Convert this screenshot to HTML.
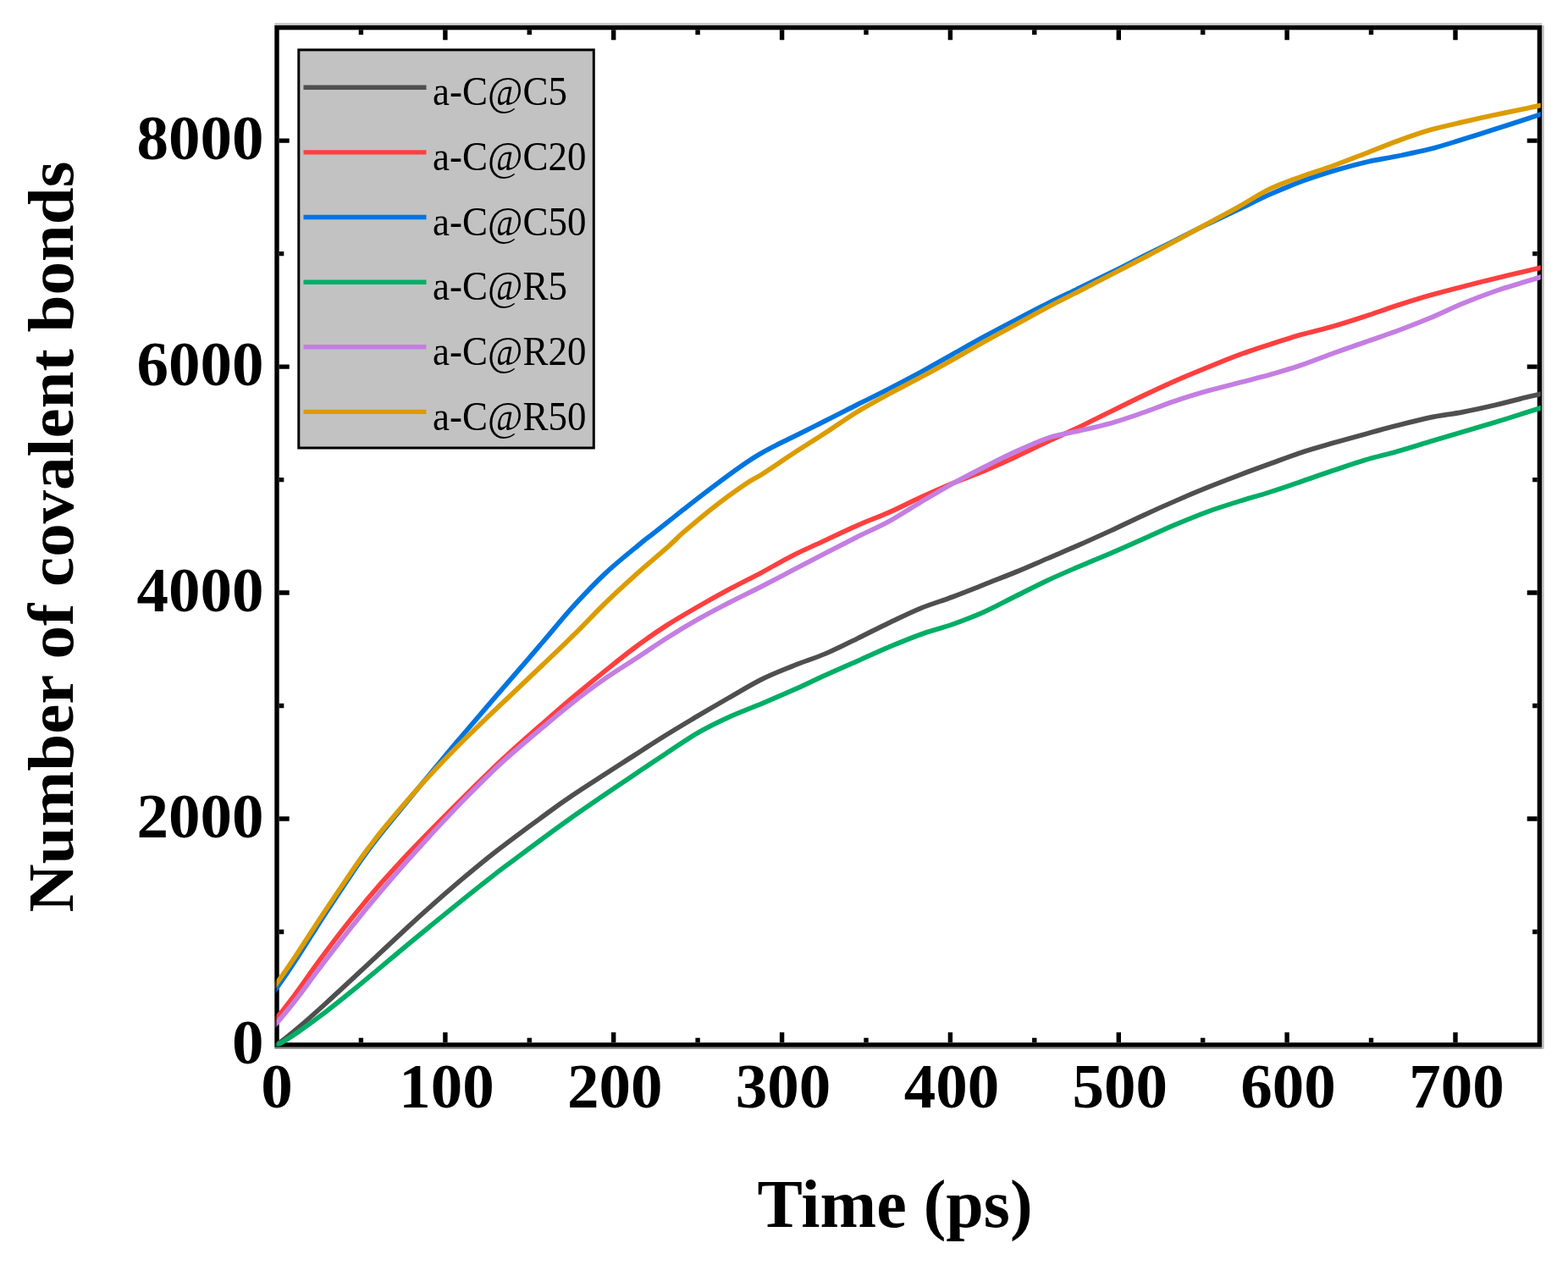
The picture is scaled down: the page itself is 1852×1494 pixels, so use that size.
<!DOCTYPE html>
<html lang="en"><head><meta charset="utf-8"><title>Number of covalent bonds vs Time</title>
<style>
html,body{margin:0;padding:0;background:#fff;}
body{width:1852px;height:1494px;overflow:hidden;}
svg{display:block;}
text{font-family:"Liberation Serif","Times New Roman",Times,serif;fill:#000;}
.tk{font-size:75px;font-weight:bold;}
.ttl{font-size:80px;font-weight:bold;}
.lg{font-size:45px;}
</style></head><body>
<svg xmlns="http://www.w3.org/2000/svg" width="1852" height="1494" viewBox="0 0 1852 1494">
<rect x="0" y="0" width="1852" height="1494" fill="#fff"/>
<rect x="324.3" y="27.1" width="1496.8" height="2.8" fill="#c6c6c6"/>
<rect x="1821.1" y="29.9" width="2.6" height="1209.0" fill="#bdbdbd"/>
<rect x="324.3" y="1236.7" width="1496.8" height="2.2" fill="#8e8e8e"/>
<rect x="352.8" y="58.9" width="348.5" height="470.1" fill="#c2c2c2" stroke="#000" stroke-width="3"/>
<line x1="358.5" y1="103.2" x2="503.5" y2="103.2" stroke="#4f4f4f" stroke-width="5.4"/>
<text class="lg" transform="translate(511 124.4) scale(1 1.1)">a-C@C5</text>
<line x1="358.5" y1="179.9" x2="503.5" y2="179.9" stroke="#ff3f3f" stroke-width="5.4"/>
<text class="lg" transform="translate(511 201.1) scale(1 1.1)">a-C@C20</text>
<line x1="358.5" y1="256.5" x2="503.5" y2="256.5" stroke="#0075e0" stroke-width="5.4"/>
<text class="lg" transform="translate(511 277.7) scale(1 1.1)">a-C@C50</text>
<line x1="358.5" y1="333.2" x2="503.5" y2="333.2" stroke="#00ae66" stroke-width="5.4"/>
<text class="lg" transform="translate(511 354.4) scale(1 1.1)">a-C@R5</text>
<line x1="358.5" y1="409.8" x2="503.5" y2="409.8" stroke="#c47ee2" stroke-width="5.4"/>
<text class="lg" transform="translate(511 431.0) scale(1 1.1)">a-C@R20</text>
<line x1="358.5" y1="486.4" x2="503.5" y2="486.4" stroke="#dc9c00" stroke-width="5.4"/>
<text class="lg" transform="translate(511 507.6) scale(1 1.1)">a-C@R50</text>
<rect x="327.0" y="32.6" width="1491.4" height="1201.4" fill="none" stroke="#000" stroke-width="5.4"/>
<path d="M426.4 1231.3v-5.6M426.4 35.3v5.6M525.9 1231.3v-12.0M525.9 35.3v12.0M625.3 1231.3v-5.6M625.3 35.3v5.6M724.7 1231.3v-12.0M724.7 35.3v12.0M824.1 1231.3v-5.6M824.1 35.3v5.6M923.6 1231.3v-12.0M923.6 35.3v12.0M1023.0 1231.3v-5.6M1023.0 35.3v5.6M1122.4 1231.3v-12.0M1122.4 35.3v12.0M1221.8 1231.3v-5.6M1221.8 35.3v5.6M1321.3 1231.3v-12.0M1321.3 35.3v12.0M1420.7 1231.3v-5.6M1420.7 35.3v5.6M1520.1 1231.3v-12.0M1520.1 35.3v12.0M1619.5 1231.3v-5.6M1619.5 35.3v5.6M1719.0 1231.3v-12.0M1719.0 35.3v12.0M329.7 1100.5h5.6M1815.7 1100.5h-5.6M329.7 967.0h12.0M1815.7 967.0h-12.0M329.7 833.5h5.6M1815.7 833.5h-5.6M329.7 700.0h12.0M1815.7 700.0h-12.0M329.7 566.6h5.6M1815.7 566.6h-5.6M329.7 433.1h12.0M1815.7 433.1h-12.0M329.7 299.6h5.6M1815.7 299.6h-5.6M329.7 166.1h12.0M1815.7 166.1h-12.0" stroke="#000" stroke-width="5.4" fill="none"/>
<clipPath id="pc"><rect x="326.7" y="32.6" width="1493.1" height="1202.9"/></clipPath>
<g clip-path="url(#pc)" fill="none" stroke-width="5.7" stroke-linejoin="round" stroke-linecap="butt">
<path d="M323.0 1236.6C323.7 1236.1 324.2 1235.9 327.0 1233.8C329.8 1231.7 335.8 1227.3 340.0 1223.9C344.2 1220.6 344.9 1220.2 352.4 1213.7C359.9 1207.3 374.0 1194.8 384.8 1185.0C395.6 1175.3 406.4 1165.2 417.2 1155.2C428.0 1145.2 438.8 1134.9 449.6 1124.8C460.4 1114.7 471.2 1104.6 482.0 1094.7C492.8 1084.7 503.6 1074.9 514.4 1065.4C525.2 1055.9 536.0 1046.5 546.8 1037.4C557.6 1028.3 570.3 1017.9 579.2 1010.8C588.1 1003.7 590.3 1002.0 600.0 994.7C609.7 987.4 625.0 976.1 637.5 967.0C650.0 957.9 656.2 952.7 675.0 940.1C693.8 927.5 731.4 903.5 750.0 891.5C768.6 879.5 774.2 875.8 786.7 868.1C799.2 860.3 812.8 852.3 825.0 845.0C837.2 837.8 847.5 831.8 860.0 824.6C872.5 817.5 887.1 808.5 900.0 802.1C912.9 795.7 925.0 791.2 937.5 786.1C950.0 781.1 962.5 777.3 975.0 772.0C987.5 766.6 1000.0 760.3 1012.5 754.2C1025.0 748.1 1037.5 741.6 1050.0 735.6C1062.5 729.7 1075.0 723.4 1087.5 718.3C1100.0 713.2 1112.5 709.7 1125.0 705.0C1137.5 700.4 1150.0 695.3 1162.5 690.4C1175.0 685.4 1187.5 680.6 1200.0 675.5C1212.5 670.4 1225.0 664.8 1237.5 659.5C1250.0 654.1 1262.5 648.9 1275.0 643.4C1287.5 637.9 1300.0 632.2 1312.5 626.5C1325.0 620.7 1337.5 614.5 1350.0 608.8C1362.5 603.0 1375.0 597.4 1387.5 592.0C1400.0 586.5 1412.5 581.2 1425.0 576.2C1437.5 571.1 1450.0 566.3 1462.5 561.6C1475.0 556.8 1487.5 552.3 1500.0 547.8C1512.5 543.2 1525.0 538.3 1537.5 534.2C1550.0 530.1 1562.5 526.7 1575.0 523.1C1587.5 519.5 1600.0 516.1 1612.5 512.7C1625.0 509.2 1637.3 505.8 1650.0 502.6C1662.7 499.3 1675.9 495.8 1688.9 493.1C1701.9 490.5 1714.8 489.1 1727.8 486.6C1740.8 484.1 1753.6 481.2 1766.6 478.2C1779.5 475.2 1796.9 470.7 1805.5 468.6C1814.1 466.6 1815.5 466.3 1818.4 465.6C1821.3 464.9 1822.2 464.7 1823.0 464.5" stroke="#4f4f4f"/>
<path d="M323.0 1206.0C323.7 1205.3 324.2 1205.4 327.0 1202.0C329.8 1198.6 335.8 1191.2 340.0 1185.7C344.2 1180.3 347.7 1175.6 352.4 1169.1C357.1 1162.7 362.6 1154.7 368.0 1147.2C373.4 1139.7 376.6 1134.9 384.8 1124.1C393.0 1113.2 406.4 1095.7 417.2 1082.3C428.0 1068.9 438.8 1056.0 449.6 1043.7C460.4 1031.4 470.7 1020.3 482.0 1008.3C493.3 996.4 505.9 983.5 517.2 972.0C528.5 960.5 538.8 950.2 549.6 939.4C560.4 928.7 573.6 915.8 582.0 907.7C590.4 899.6 590.8 899.2 600.0 890.9C609.2 882.5 625.0 868.5 637.5 857.5C650.0 846.5 662.5 835.4 675.0 824.9C687.5 814.3 700.0 804.2 712.5 794.1C725.0 784.1 737.5 773.9 750.0 764.6C762.5 755.3 775.0 746.6 787.5 738.5C800.0 730.5 812.5 723.3 825.0 716.1C837.5 708.9 850.0 702.0 862.5 695.3C875.0 688.6 887.5 682.5 900.0 675.9C912.5 669.2 925.0 661.8 937.5 655.5C950.0 649.2 962.5 643.8 975.0 638.0C987.5 632.1 1000.0 626.1 1012.5 620.6C1025.0 615.1 1037.5 610.7 1050.0 605.1C1062.5 599.6 1075.0 593.1 1087.5 587.4C1100.0 581.7 1112.5 576.1 1125.0 570.9C1137.5 565.6 1150.0 561.2 1162.5 556.0C1175.0 550.7 1187.5 545.1 1200.0 539.3C1212.5 533.6 1228.0 525.9 1237.5 521.5C1247.0 517.0 1250.5 515.4 1256.7 512.6C1263.0 509.7 1265.7 508.7 1275.0 504.2C1284.3 499.7 1300.0 491.9 1312.5 485.8C1325.0 479.6 1337.5 473.4 1350.0 467.4C1362.5 461.5 1375.0 455.6 1387.5 450.1C1400.0 444.6 1412.5 439.5 1425.0 434.4C1437.5 429.3 1450.0 424.1 1462.5 419.4C1475.0 414.8 1487.5 410.7 1500.0 406.7C1512.5 402.6 1525.0 398.7 1537.5 395.1C1550.0 391.6 1562.5 388.9 1575.0 385.3C1587.5 381.7 1600.0 377.6 1612.5 373.5C1625.0 369.4 1637.3 364.9 1650.0 360.8C1662.7 356.7 1675.9 352.5 1688.9 348.8C1701.9 345.0 1714.8 341.7 1727.8 338.4C1740.8 335.0 1753.6 331.8 1766.6 328.7C1779.5 325.5 1796.9 321.5 1805.5 319.4C1814.1 317.4 1815.5 317.1 1818.4 316.4C1821.3 315.7 1822.2 315.5 1823.0 315.3" stroke="#ff3f3f"/>
<path d="M323.0 1171.5C323.7 1170.7 324.2 1170.4 327.0 1166.5C329.8 1162.6 335.8 1154.1 340.0 1147.9C344.2 1141.6 347.7 1136.3 352.4 1129.1C357.1 1121.9 362.6 1113.0 368.0 1104.5C373.4 1096.1 376.6 1090.8 384.8 1078.3C393.0 1065.7 408.8 1041.7 417.2 1029.3C425.6 1016.9 429.1 1012.0 435.0 1004.0C440.9 996.1 444.1 991.8 452.4 981.5C460.7 971.1 474.0 955.0 484.8 941.9C495.6 928.8 509.1 912.7 517.2 903.0C525.3 893.3 528.0 890.1 533.4 883.6C538.8 877.2 541.5 874.0 549.6 864.5C557.7 855.0 573.6 836.5 582.0 826.7C590.4 817.0 590.3 817.1 600.0 805.9C609.7 794.7 627.1 774.6 640.0 759.5C652.9 744.5 665.0 729.4 677.5 715.7C690.0 702.0 702.5 688.9 715.0 677.1C727.5 665.4 743.0 653.0 752.5 645.2C762.0 637.3 762.5 637.2 771.7 629.9C780.9 622.7 795.3 611.2 807.5 601.6C819.7 592.1 832.5 582.1 845.0 572.8C857.5 563.4 873.3 552.0 882.5 545.7C891.7 539.3 893.8 538.3 900.0 534.7C906.2 531.1 913.8 527.3 920.0 524.1C926.2 521.0 928.3 520.1 937.5 515.6C946.7 511.1 962.5 503.2 975.0 496.9C987.5 490.7 1000.0 484.2 1012.5 477.9C1025.0 471.7 1037.5 465.7 1050.0 459.3C1062.5 452.9 1075.0 446.4 1087.5 439.6C1100.0 432.7 1112.5 425.4 1125.0 418.4C1137.5 411.4 1150.0 404.3 1162.5 397.5C1175.0 390.7 1187.5 384.2 1200.0 377.7C1212.5 371.1 1225.0 364.5 1237.5 358.3C1250.0 352.0 1262.5 346.2 1275.0 340.1C1287.5 334.1 1300.0 328.0 1312.5 321.8C1325.0 315.6 1337.5 309.1 1350.0 302.8C1362.5 296.6 1375.0 290.4 1387.5 284.2C1400.0 277.9 1412.5 271.4 1425.0 265.3C1437.5 259.2 1450.0 253.5 1462.5 247.5C1475.0 241.5 1487.5 235.1 1500.0 229.5C1512.5 224.0 1525.0 218.9 1537.5 214.2C1550.0 209.6 1562.5 205.6 1575.0 201.8C1587.5 198.1 1600.0 194.6 1612.5 191.7C1625.0 188.8 1637.3 187.1 1650.0 184.5C1662.7 181.9 1675.9 179.4 1688.9 176.1C1701.9 172.8 1714.8 168.5 1727.8 164.6C1740.8 160.6 1753.6 156.5 1766.6 152.3C1779.5 148.2 1796.9 142.6 1805.5 139.8C1814.1 136.9 1815.5 136.4 1818.4 135.4C1821.3 134.4 1822.2 134.2 1823.0 133.9" stroke="#0075e0"/>
<path d="M323.0 1235.8C323.7 1235.6 324.8 1235.6 327.0 1234.5C329.2 1233.4 332.0 1231.9 336.2 1229.2C340.4 1226.6 344.3 1224.4 352.4 1218.7C360.5 1213.0 374.0 1203.2 384.8 1195.0C395.6 1186.7 406.4 1178.0 417.2 1169.3C428.0 1160.5 438.8 1151.4 449.6 1142.4C460.4 1133.4 471.2 1124.2 482.0 1115.3C492.8 1106.3 503.6 1097.4 514.4 1088.6C525.2 1079.8 536.0 1071.1 546.8 1062.4C557.6 1053.7 570.3 1043.6 579.2 1036.7C588.1 1029.8 584.0 1032.7 600.0 1020.8C616.0 1009.0 650.0 983.4 675.0 965.7C700.0 947.9 731.4 927.0 750.0 914.3C768.6 901.7 774.2 898.0 786.7 889.8C799.2 881.6 812.8 872.1 825.0 865.0C837.2 858.0 847.5 853.0 860.0 847.3C872.5 841.6 887.1 836.3 900.0 830.9C912.9 825.4 925.0 820.3 937.5 814.7C950.0 809.1 962.5 803.0 975.0 797.4C987.5 791.7 1000.0 786.3 1012.5 780.8C1025.0 775.2 1037.5 769.4 1050.0 764.1C1062.5 758.9 1075.0 753.7 1087.5 749.2C1100.0 744.8 1112.5 741.8 1125.0 737.4C1137.5 732.9 1150.0 728.2 1162.5 722.6C1175.0 717.1 1187.5 710.1 1200.0 703.9C1212.5 697.7 1225.0 691.1 1237.5 685.3C1250.0 679.5 1262.5 674.2 1275.0 668.8C1287.5 663.5 1300.0 658.5 1312.5 653.1C1325.0 647.8 1337.5 642.2 1350.0 636.6C1362.5 631.1 1375.0 625.2 1387.5 619.9C1400.0 614.6 1412.5 609.4 1425.0 604.8C1437.5 600.2 1450.0 596.3 1462.5 592.4C1475.0 588.5 1487.5 585.1 1500.0 581.1C1512.5 577.2 1525.0 572.8 1537.5 568.5C1550.0 564.2 1562.5 559.7 1575.0 555.5C1587.5 551.3 1600.0 546.9 1612.5 543.2C1625.0 539.5 1637.3 536.8 1650.0 533.2C1662.7 529.6 1675.9 525.5 1688.9 521.6C1701.9 517.8 1714.8 513.8 1727.8 510.0C1740.8 506.1 1753.6 502.5 1766.6 498.6C1779.5 494.6 1796.9 488.9 1805.5 486.2C1814.1 483.4 1815.5 483.1 1818.4 482.2C1821.3 481.3 1822.2 481.0 1823.0 480.8" stroke="#00ae66"/>
<path d="M323.0 1212.0C323.7 1211.3 324.2 1211.2 327.0 1208.0C329.8 1204.8 335.8 1197.8 340.0 1192.6C344.2 1187.4 347.7 1183.0 352.4 1176.9C357.1 1170.8 362.6 1163.2 368.0 1156.0C373.4 1148.8 376.6 1144.3 384.8 1133.7C393.0 1123.0 406.4 1105.7 417.2 1092.2C428.0 1078.7 438.8 1065.6 449.6 1052.9C460.4 1040.1 470.7 1028.3 482.0 1015.6C493.3 1003.0 505.9 989.0 517.2 976.9C528.5 964.8 538.8 953.9 549.6 942.8C560.4 931.8 573.6 918.7 582.0 910.6C590.4 902.5 590.8 902.1 600.0 894.0C609.2 885.9 625.0 872.5 637.5 862.0C650.0 851.5 662.5 840.8 675.0 831.0C687.5 821.1 700.0 811.7 712.5 803.0C725.0 794.2 737.5 786.6 750.0 778.4C762.5 770.2 775.0 761.5 787.5 753.6C800.0 745.7 812.5 738.2 825.0 731.1C837.5 724.0 850.0 717.6 862.5 711.1C875.0 704.7 887.5 698.8 900.0 692.4C912.5 686.0 925.0 679.3 937.5 672.8C950.0 666.2 962.5 659.7 975.0 653.2C987.5 646.8 1000.0 640.4 1012.5 634.1C1025.0 627.9 1037.5 622.5 1050.0 615.7C1062.5 608.8 1075.0 600.5 1087.5 593.1C1100.0 585.7 1112.5 578.2 1125.0 571.3C1137.5 564.4 1150.0 558.0 1162.5 551.6C1175.0 545.3 1187.5 538.9 1200.0 533.2C1212.5 527.5 1228.0 520.8 1237.5 517.4C1247.0 513.9 1250.5 514.0 1256.7 512.5C1263.0 511.1 1265.7 510.9 1275.0 508.7C1284.3 506.6 1300.0 503.2 1312.5 499.7C1325.0 496.1 1337.5 491.7 1350.0 487.4C1362.5 483.0 1375.0 477.9 1387.5 473.7C1400.0 469.5 1412.5 465.7 1425.0 462.1C1437.5 458.6 1450.0 455.5 1462.5 452.3C1475.0 449.0 1487.5 446.1 1500.0 442.6C1512.5 439.0 1525.0 435.3 1537.5 431.0C1550.0 426.8 1562.5 421.7 1575.0 417.1C1587.5 412.6 1600.0 408.4 1612.5 404.0C1625.0 399.6 1637.3 395.6 1650.0 390.9C1662.7 386.2 1675.9 381.1 1688.9 375.7C1701.9 370.3 1714.8 363.7 1727.8 358.4C1740.8 353.0 1753.6 348.1 1766.6 343.6C1779.5 339.2 1796.9 334.2 1805.5 331.5C1814.1 328.8 1815.5 328.5 1818.4 327.6C1821.3 326.7 1822.2 326.4 1823.0 326.2" stroke="#c47ee2"/>
<path d="M323.0 1166.0C323.7 1165.2 324.2 1164.9 327.0 1161.0C329.8 1157.1 335.8 1148.7 340.0 1142.6C344.2 1136.4 347.7 1131.2 352.4 1124.1C357.1 1117.1 362.6 1108.4 368.0 1100.1C373.4 1091.8 376.6 1086.7 384.8 1074.5C393.0 1062.2 408.8 1038.8 417.2 1026.6C425.6 1014.5 429.1 1009.6 435.0 1001.8C440.9 993.9 444.1 989.5 452.4 979.4C460.7 969.3 474.0 953.5 484.8 941.1C495.6 928.8 506.4 916.9 517.2 905.5C528.0 894.0 538.8 883.1 549.6 872.3C560.4 861.6 573.6 849.1 582.0 841.1C590.4 833.0 590.3 833.2 600.0 824.1C609.7 814.9 627.1 798.5 640.0 786.1C652.9 773.8 665.0 762.5 677.5 750.1C690.0 737.8 702.5 724.2 715.0 712.1C727.5 700.0 740.0 688.6 752.5 677.4C765.0 666.2 780.8 652.9 790.0 644.8C799.2 636.6 798.3 636.3 807.5 628.4C816.7 620.5 832.5 607.0 845.0 597.4C857.5 587.7 873.3 576.6 882.5 570.4C891.7 564.2 893.8 564.0 900.0 560.1C906.2 556.2 913.8 551.1 920.0 546.9C926.2 542.8 928.3 541.0 937.5 535.1C946.7 529.1 962.5 519.4 975.0 511.2C987.5 503.1 1000.0 494.1 1012.5 486.4C1025.0 478.8 1037.5 472.0 1050.0 465.2C1062.5 458.4 1075.0 452.3 1087.5 445.6C1100.0 438.9 1112.5 432.0 1125.0 425.0C1137.5 418.0 1150.0 410.6 1162.5 403.6C1175.0 396.6 1187.5 390.0 1200.0 383.2C1212.5 376.4 1225.0 369.3 1237.5 362.7C1250.0 356.1 1262.5 350.0 1275.0 343.6C1287.5 337.2 1300.0 330.8 1312.5 324.3C1325.0 317.9 1337.5 311.5 1350.0 304.9C1362.5 298.3 1375.0 291.6 1387.5 284.9C1400.0 278.2 1412.5 271.5 1425.0 264.7C1437.5 258.0 1450.0 251.4 1462.5 244.4C1475.0 237.5 1487.5 229.0 1500.0 223.0C1512.5 217.0 1525.0 212.9 1537.5 208.3C1550.0 203.7 1562.5 200.1 1575.0 195.6C1587.5 191.1 1600.0 186.1 1612.5 181.3C1625.0 176.5 1637.3 171.3 1650.0 166.7C1662.7 162.1 1675.9 157.4 1688.9 153.6C1701.9 149.8 1714.8 147.1 1727.8 144.1C1740.8 141.1 1753.6 138.3 1766.6 135.5C1779.5 132.8 1796.9 129.3 1805.5 127.5C1814.1 125.7 1815.5 125.3 1818.4 124.7C1821.3 124.1 1822.2 124.0 1823.0 123.8" stroke="#dc9c00"/>
</g>
<clipPath id="pl"><rect x="324.3" y="32.6" width="2.4" height="1202.9"/></clipPath>
<g clip-path="url(#pl)" fill="none" stroke-width="5.7" opacity="0.3">
<path d="M319.0 1239.4L329.0 1232.4" stroke="#4f4f4f"/>
<path d="M319.0 1210.0L329.0 1200.0" stroke="#ff3f3f"/>
<path d="M319.0 1176.5L329.0 1164.0" stroke="#0075e0"/>
<path d="M319.0 1237.1L329.0 1233.8" stroke="#00ae66"/>
<path d="M319.0 1216.0L329.0 1206.0" stroke="#c47ee2"/>
<path d="M319.0 1171.0L329.0 1158.5" stroke="#dc9c00"/>
</g>
<text class="tk" x="327.0" y="1308" text-anchor="middle">0</text>
<text class="tk" x="527.4" y="1308" text-anchor="middle">100</text>
<text class="tk" x="726.2" y="1308" text-anchor="middle">200</text>
<text class="tk" x="925.1" y="1308" text-anchor="middle">300</text>
<text class="tk" x="1123.9" y="1308" text-anchor="middle">400</text>
<text class="tk" x="1322.8" y="1308" text-anchor="middle">500</text>
<text class="tk" x="1521.6" y="1308" text-anchor="middle">600</text>
<text class="tk" x="1720.5" y="1308" text-anchor="middle">700</text>
<text class="tk" x="311.5" y="1255.8" text-anchor="end">0</text>
<text class="tk" x="311.5" y="988.8" text-anchor="end">2000</text>
<text class="tk" x="311.5" y="721.8" text-anchor="end">4000</text>
<text class="tk" x="311.5" y="454.9" text-anchor="end">6000</text>
<text class="tk" x="311.5" y="187.9" text-anchor="end">8000</text>
<text class="ttl" x="1057" y="1448.5" text-anchor="middle">Time (ps)</text>
<text class="ttl" transform="translate(86 634) rotate(-90) scale(0.987 0.95)" text-anchor="middle">Number of covalent bonds</text>
</svg></body></html>
